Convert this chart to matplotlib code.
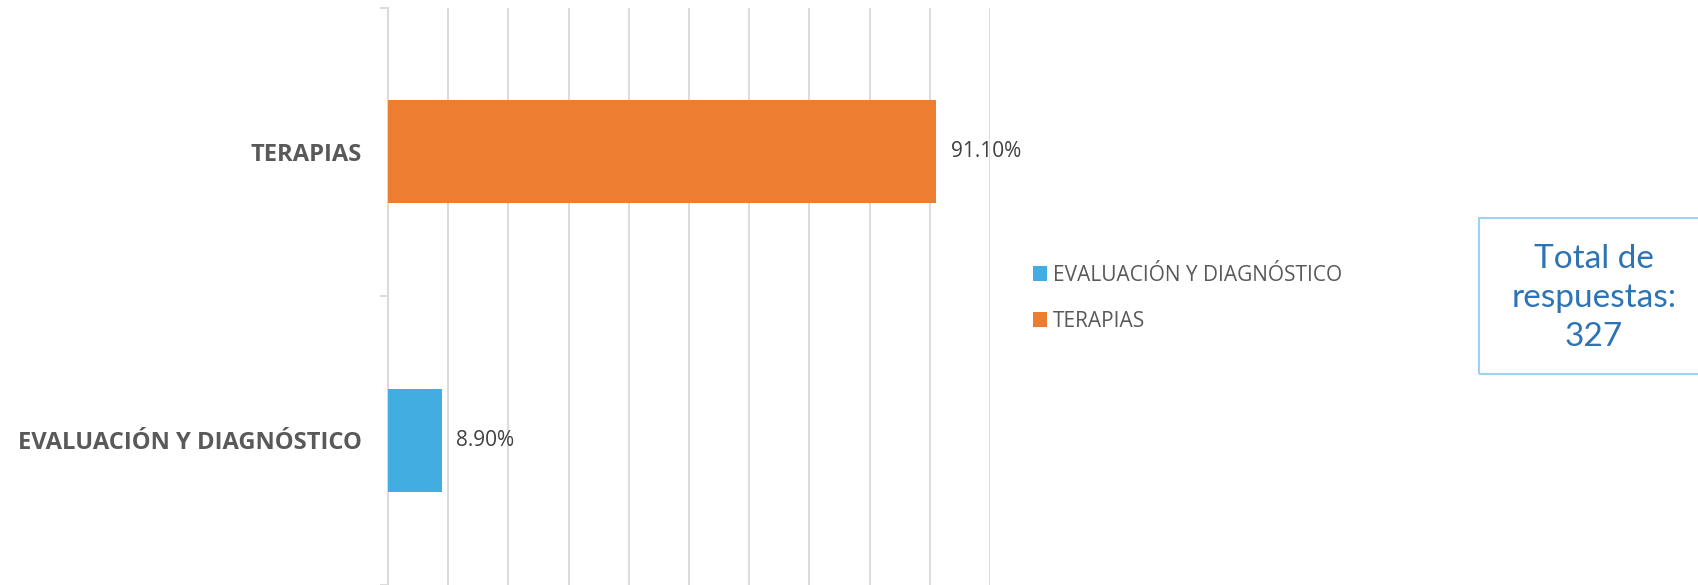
import matplotlib.pyplot as plt
from matplotlib.patches import Rectangle

categorias = ['EVALUACIÓN Y DIAGNÓSTICO', 'TERAPIAS']
porcentajes = [0.089, 0.911]
colores = ['#42ADE1', '#ED7D31']
total_respuestas = 327

fig = plt.figure(figsize=(16.98, 5.85), dpi=100)
ax = fig.add_axes([388 / 1698, 0.5 / 585, 602 / 1698, 577 / 585])

# barras horizontales
barras = ax.barh(range(len(categorias)), porcentajes, height=0.358, color=colores,
                 zorder=3)
for b, nombre in zip(barras, categorias):
    b.set_label(nombre)

ax.bar_label(barras, labels=[f'{v * 100:.2f}%' for v in porcentajes], padding=10.5,
             fontsize=15, color='#404040', family='Open Sans')

ax.set_xlim(0, 1)
ax.set_ylim(-0.5, 1.5)
ax.set_xticks([i / 10 for i in range(11)])
ax.tick_params(axis='x', length=0, labelbottom=False)
ax.grid(axis='x', color='#d9d9d9', lw=1.3, zorder=0)

ax.set_yticks(range(len(categorias)))
ax.set_yticklabels(categorias, fontsize=17.1, fontweight='bold', color='#595959',
                   family='Open Sans')
ax.tick_params(axis='y', which='major', length=0, pad=19)
ax.set_yticks([-0.5, 0.5, 1.5], minor=True)
ax.tick_params(axis='y', which='minor', length=6, width=1.3, color='#d9d9d9')

for s in ['top', 'right', 'bottom']:
    ax.spines[s].set_visible(False)
ax.spines['left'].set_color('#d9d9d9')
ax.spines['left'].set_linewidth(1.3)

# leyenda
leg = ax.legend(handles=list(barras), loc='upper left',
                bbox_to_anchor=(1014 / 1698, 1 - 246 / 585), bbox_transform=fig.transFigure,
                frameon=False, handlelength=0.7, handleheight=0.7, handletextpad=0.25,
                labelspacing=1.2, prop={'family': 'Open Sans', 'size': 15})
for t in leg.get_texts():
    t.set_color('#595959')

# cuadro con el total
fig.patches.append(Rectangle((1479 / 1698, 1 - 374 / 585), 0.2, 156 / 585,
                             transform=fig.transFigure, fill=False,
                             edgecolor='#9DD3F0', lw=1.5))
fig.text(1594 / 1698, 1 - 298 / 585, f'Total de\nrespuestas:\n{total_respuestas}',
         ha='center', va='center', multialignment='center', fontsize=24,
         family='Lato', color='#2E74B5', linespacing=1.38)

fig.savefig('out.png', dpi=100)
